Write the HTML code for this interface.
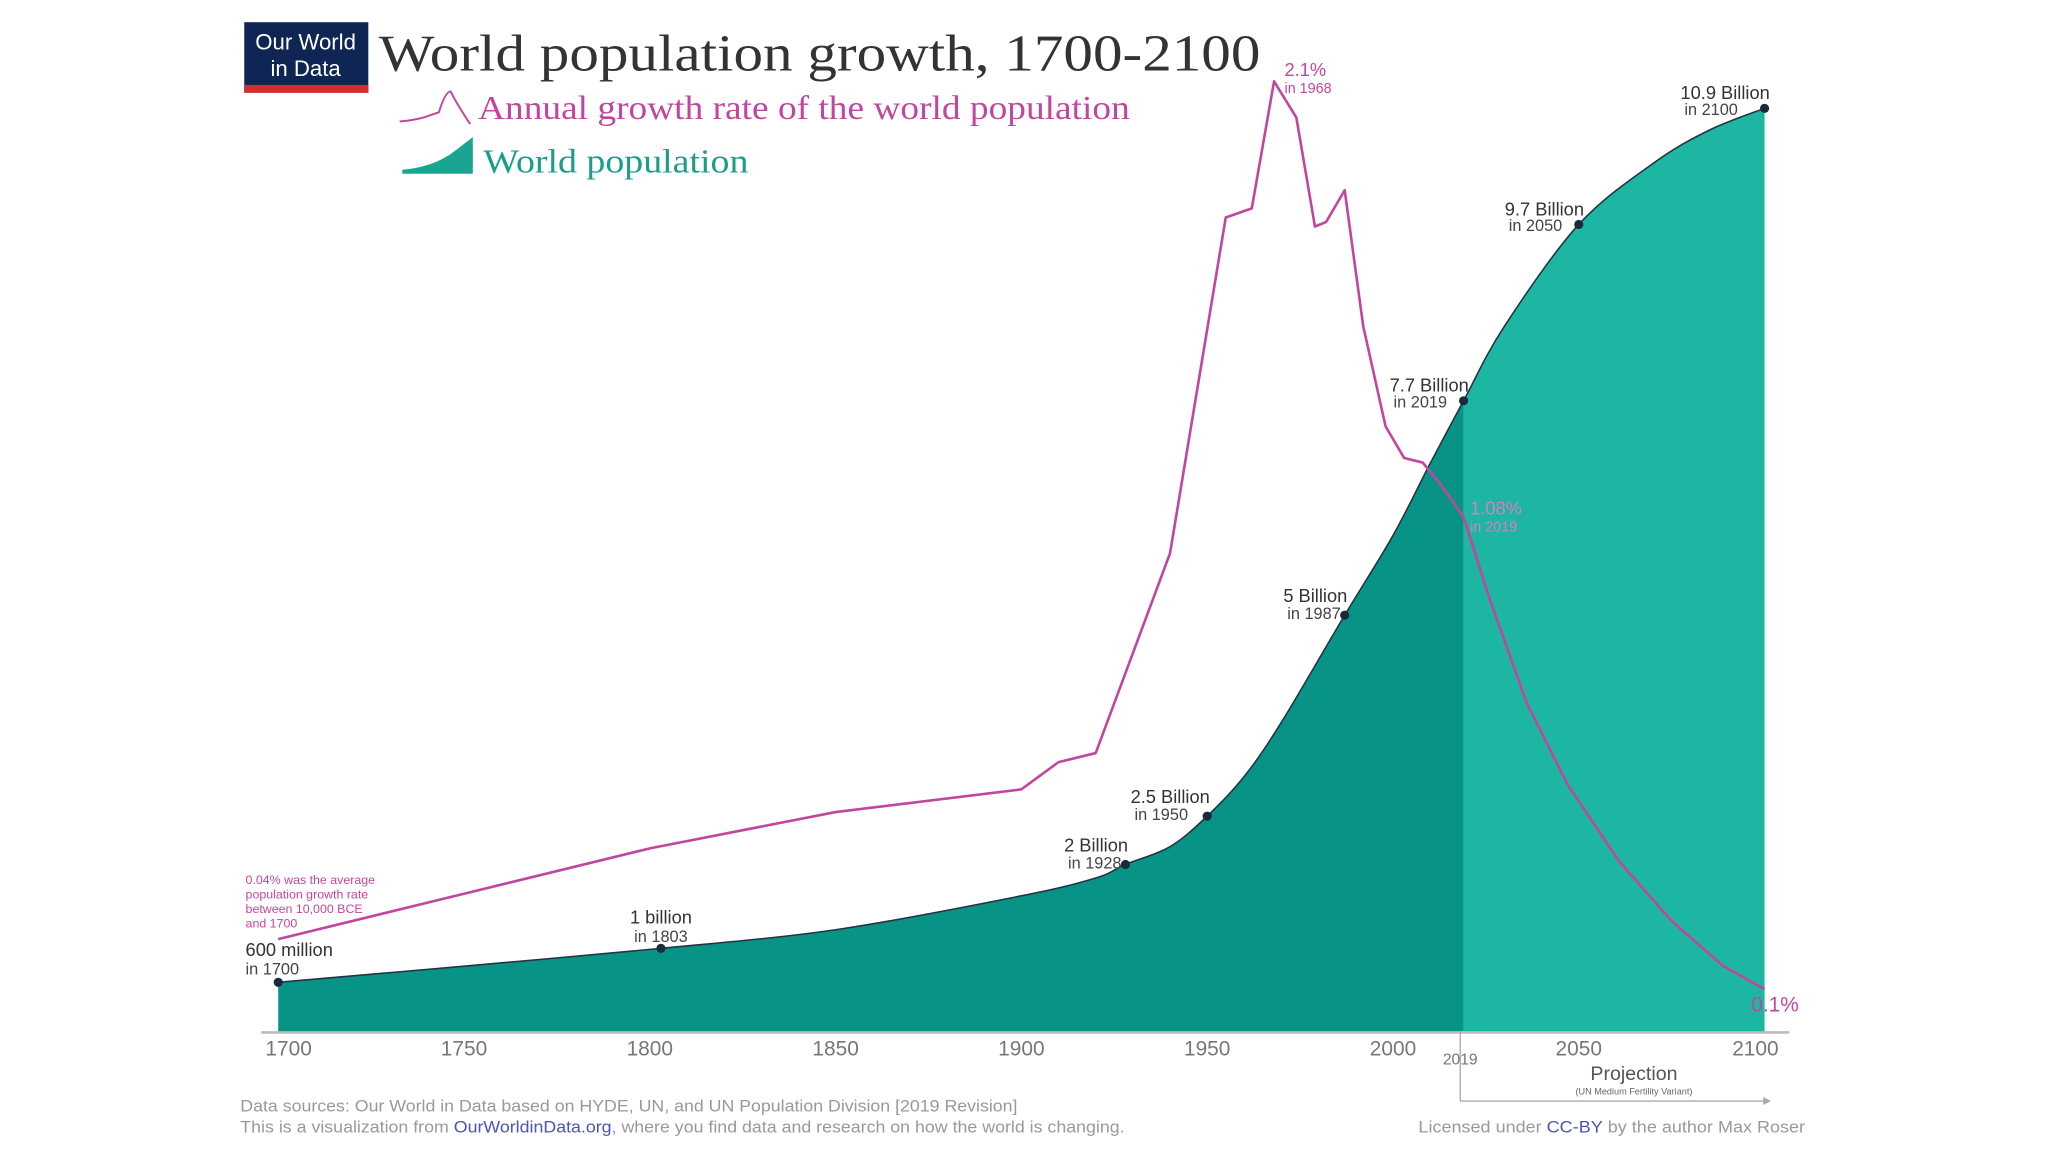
<!DOCTYPE html>
<html><head><meta charset="utf-8"><style>
html,body{margin:0;padding:0;background:#fff;}
svg{display:block;}
text{font-family:"Liberation Sans",sans-serif;}
.serif{font-family:"Liberation Serif",serif;}
</style></head><body>
<svg id="chart" width="2048" height="1152" viewBox="0 0 1568 882" preserveAspectRatio="none" xmlns="http://www.w3.org/2000/svg">
<g>
<rect x="187" y="17" width="95" height="54" fill="#0f2553"/>
<rect x="187" y="65" width="95" height="6" fill="#d32e2b"/>
<text x="234" y="38" font-size="17" fill="#fff" text-anchor="middle">Our World</text>
<text x="234" y="58" font-size="17" fill="#fff" text-anchor="middle">in Data</text>
</g>
<text class="serif" x="290" y="54" font-size="40" fill="#333" textLength="675" lengthAdjust="spacingAndGlyphs">World population growth, 1700-2100</text>
<g>
<path d="M306,93 Q320,92 330,88 L336,86 Q341,70 345,70 Q350,80 360,95" fill="none" stroke="#c1479e" stroke-width="1.5"/>
<text class="serif" x="366" y="91" font-size="26" fill="#c1479e" textLength="499" lengthAdjust="spacingAndGlyphs">Annual growth rate of the world population</text>
</g>
<g>
<path d="M308,133 L308,130 Q330,128 345,118 L362,105 L362,133 Z" fill="#1aa592"/>
<text class="serif" x="370" y="132" font-size="26" fill="#1a9e8c" textLength="203" lengthAdjust="spacingAndGlyphs">World population</text>
</g>
<g id="plot"></g>
<line x1="200" y1="790.5" x2="1370" y2="790.5" stroke="#bbb" stroke-width="2"/>
<g id="xticks"></g>
<text x="1118" y="815" font-size="12" fill="#777" text-anchor="middle">2019</text>
<line x1="1118" y1="790" x2="1118" y2="843" stroke="#aaa" stroke-width="1"/>
<line x1="1118" y1="843" x2="1355" y2="843" stroke="#aaa" stroke-width="1"/>
<path d="M1350,840 L1356,843 L1350,846 Z" fill="#aaa"/>
<text x="1251" y="827" font-size="15" fill="#555" text-anchor="middle">Projection</text>
<text x="1251" y="838" font-size="7" fill="#666" text-anchor="middle">(UN Medium Fertility Variant)</text>
<text font-size="9.5" fill="#c1479e">
<tspan x="188" y="677">0.04% was the average</tspan><tspan x="188" y="688">population growth rate</tspan><tspan x="188" y="699">between 10,000 BCE</tspan><tspan x="188" y="710">and 1700</tspan></text>
<text x="184" y="851" font-size="12.5" fill="#999" textLength="595" lengthAdjust="spacingAndGlyphs">Data sources: Our World in Data based on HYDE, UN, and UN Population Division [2019 Revision]</text>
<text x="184" y="867" font-size="12.5" fill="#999" textLength="677" lengthAdjust="spacingAndGlyphs">This is a visualization from <tspan fill="#4a55b5">OurWorldinData.org</tspan>, where you find data and research on how the world is changing.</text>
<text x="1382" y="867" font-size="12.5" fill="#999" text-anchor="end" textLength="296" lengthAdjust="spacingAndGlyphs">Licensed under <tspan fill="#4a55b5">CC-BY</tspan> by the author Max Roser</text>
</svg>
<script>
const popYears=[1700,1750,1803,1850,1900,1920,1928,1940,1950,1960,1970,1987,2000,2010,2019,2030,2050,2070,2085,2100];
const popValues=[0.60,0.79,1.00,1.22,1.62,1.83,1.99,2.20,2.56,3.03,3.67,4.93,5.87,6.72,7.46,8.34,9.54,10.26,10.65,10.91];
const rateYears=[1700,1750,1800,1850,1900,1910,1920,1940,1955,1962,1968,1974,1979,1982,1987,1992,1998,2003,2008,2013,2019,2026,2036,2047,2061,2075,2089,2100];
const rateValues=[0.21,0.31,0.41,0.49,0.54,0.60,0.62,1.06,1.80,1.82,2.10,2.02,1.78,1.79,1.86,1.56,1.34,1.27,1.26,1.21,1.14,0.96,0.73,0.55,0.38,0.25,0.15,0.10];
const tickYears=[1700,1750,1800,1850,1900,1950,2000,2050,2100];
const tickLabels=["1700","1750","1800","1850","1900","1950","2000","2050","2100"];
const markerYears=[1700,1803,1928,1950,1987,2019,2050,2100];
const markerValues=[0.60,1.00,1.99,2.56,4.93,7.46,9.54,10.91];
const markerTitles=["600 million","1 billion","2 Billion","2.5 Billion","5 Billion","7.7 Billion","9.7 Billion","10.9 Billion"];
const markerSubs=["in 1700","in 1803","in 1928","in 1950","in 1987","in 2019","in 2050","in 2100"];
const projectionStart=2019;

const NS="http://www.w3.org/2000/svg";
const X=y=>213+(y-1700)*2.845;
const YP=v=>791-v*64.9;
const YR=r=>792-r*347.5;
const BASE=790;
function mk(tag,attrs,parent){const e=document.createElementNS(NS,tag);for(const k in attrs)e.setAttribute(k,attrs[k]);parent.appendChild(e);return e;}
const plot=document.getElementById('plot');

function smooth(pts){
  let d='';
  for(let i=0;i<pts.length-1;i++){
    const p0=pts[Math.max(0,i-1)],p1=pts[i],p2=pts[i+1],p3=pts[Math.min(pts.length-1,i+2)];
    const c1=[p1[0]+(p2[0]-p0[0])/6,p1[1]+(p2[1]-p0[1])/6];
    const c2=[p2[0]-(p3[0]-p1[0])/6,p2[1]-(p3[1]-p1[1])/6];
    d+=' C'+c1[0]+','+c1[1]+' '+c2[0]+','+c2[1]+' '+p2[0]+','+p2[1];
  }
  return d;
}
const allPts=popYears.map((y,i)=>[X(y),YP(popValues[i])]);
function areaPath(filterFn){
  let pts=[];
  for(let i=0;i<popYears.length;i++) if(filterFn(popYears[i])) pts.push(allPts[i]);
  return 'M'+pts[0][0]+','+BASE+' L'+pts[0][0]+','+pts[0][1]+smooth(pts)+' L'+pts[pts.length-1][0]+','+BASE+' Z';
}
const hist=mk('path',{d:areaPath(y=>y<=projectionStart),fill:'#079487'},plot);


const proj=mk('path',{d:areaPath(y=>y>=projectionStart),fill:'#1db6a2'},plot);


const popLine=mk('path',{d:'M'+allPts[0][0]+','+allPts[0][1]+smooth(allPts),fill:'none',stroke:'#234',"stroke-width":1.2},plot);



const rateLine=mk('path',{d:'M'+rateYears.map((y,i)=>X(y)+','+YR(rateValues[i])).join(' L'),fill:'none',stroke:'#c1479e',"stroke-width":2,"stroke-linejoin":"round"},plot);



const pk=rateValues.indexOf(Math.max(...rateValues));
const a1=mk('text',{x:X(rateYears[pk])+8,y:YR(rateValues[pk])-4,"font-size":14,fill:'#c1479e'},plot);a1.textContent='2.1%';


const a1b=mk('text',{x:X(rateYears[pk])+8,y:YR(rateValues[pk])+9,"font-size":11,fill:'#c1479e'},plot);a1b.textContent='in 1968';
const i19=rateYears.indexOf(2019);
const a2=mk('text',{x:X(2019)+5,y:YR(rateValues[i19])-2,"font-size":14,fill:'#d680bd'},plot);a2.textContent='1.08%';


const a2b=mk('text',{x:X(2019)+5,y:YR(rateValues[i19])+11,"font-size":11,fill:'#d680bd'},plot);a2b.textContent='in 2019';
const a3=mk('text',{x:X(2100)+8,y:YR(rateValues[rateValues.length-1])+17,"font-size":16,fill:'#c1479e',"text-anchor":"middle"},plot);a3.textContent='0.1%';



for(let i=0;i<markerYears.length;i++){
  const cx=X(markerYears[i]),cy=YP(markerValues[i]);
  const c=mk('circle',{cx:cx,cy:cy,r:3.5,fill:'#1a2a3a'},plot);
  
  
  let tx,anchor,ty,sy;
  if(i===0){tx=188;anchor='start';ty=cy-20;sy=cy-6;}
  else if(i===1){tx=cx;anchor='middle';ty=cy-19;sy=cy-5;}
  else if(i>=5){tx=cx+4;anchor='end';ty=cy-7;sy=cy+5;}
  else {tx=cx+2;anchor='end';ty=cy-10;sy=cy+3;}
  const t=mk('text',{x:tx,y:ty,"font-size":14,fill:'#333',"text-anchor":anchor},plot);
  t.textContent=markerTitles[i];
  
  
  const s=mk('text',{x:tx+(anchor==='end'?-30:0),y:sy,"font-size":12.5,fill:'#444',"text-anchor":anchor==='end'?'start':anchor},plot);
  if(anchor==='end'){s.setAttribute('x',tx-t.getComputedTextLength()+3);}
  s.textContent=markerSubs[i];
}

const xt=document.getElementById('xticks');
for(let i=0;i<tickYears.length;i++){
  const t=mk('text',{x:X(tickYears[i])+(i===0?8:i===tickYears.length-1?-7:0),y:808,"font-size":16,fill:'#777',"text-anchor":"middle"},xt);
  t.textContent=tickLabels[i];
  
  
}
</script>
</body></html>
